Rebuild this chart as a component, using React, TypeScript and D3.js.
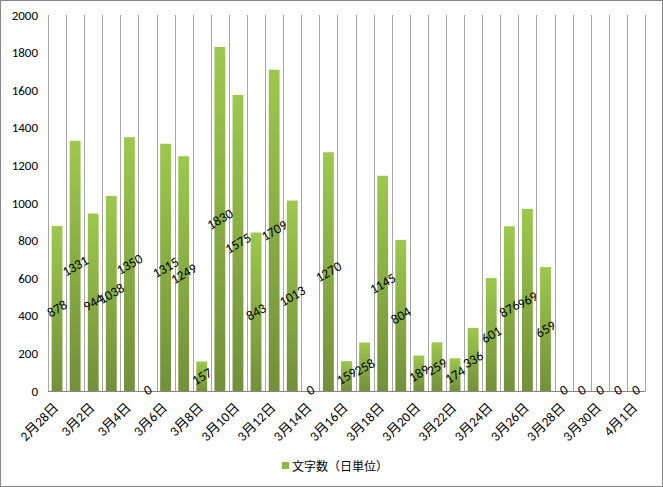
import React, { useRef, useEffect } from "react"
import * as d3 from "d3"

const dates = [
	"2月28日", "3月1日", "3月2日", "3月3日", "3月4日", "3月5日", "3月6日", "3月7日",
	"3月8日", "3月9日", "3月10日", "3月11日", "3月12日", "3月13日", "3月14日", "3月15日",
	"3月16日", "3月17日", "3月18日", "3月19日", "3月20日", "3月21日", "3月22日", "3月23日",
	"3月24日", "3月25日", "3月26日", "3月27日", "3月28日", "3月29日", "3月30日", "3月31日",
	"4月1日",
]
const counts = [
	878, 1331, 944, 1038, 1350, 0, 1315, 1249, 157, 1830, 1575, 843, 1709, 1013, 0, 1270,
	159, 258, 1145, 804, 189, 259, 174, 336, 601, 876, 969, 659, 0, 0, 0, 0, 0,
]
const yTicks = [0, 200, 400, 600, 800, 1000, 1200, 1400, 1600, 1800, 2000]
const seriesName = "文字数（日単位）"

const W = 663
const H = 487
const font = "Calibri, Carlito, 'Noto Sans CJK JP', 'Liberation Sans', sans-serif"

const App: React.FunctionComponent = () => {
	const svgRef = useRef<any>()

	useEffect(() => {
		document.body.style.margin = "0"
		const svg = d3.select(svgRef.current)
		svg.selectAll("*").remove()

		const x = d3.scaleBand<string>().domain(dates).range([48, 645]).padding(0)
		const y = d3.scaleLinear().domain([0, 2000]).range([391, 15])
		const bw = x.bandwidth() * 0.6

		// outer frame
		svg.append("rect")
			.attr("x", 0.5).attr("y", 0.5)
			.attr("width", W - 1).attr("height", H - 1)
			.attr("fill", "#fff").attr("stroke", "#868686")

		const defs = svg.append("defs")
		const grad = defs.append("linearGradient")
			.attr("id", "barGrad")
			.attr("x1", 0).attr("y1", 0).attr("x2", 0).attr("y2", 1)
		grad.append("stop").attr("offset", "0%").attr("stop-color", "#9dc84d")
		grad.append("stop").attr("offset", "100%").attr("stop-color", "#73903a")

		// vertical gridlines at category boundaries
		const bounds = dates.map((d) => x(d) as number).concat([x.range()[1]])
		svg.append("g")
			.selectAll("line")
			.data(bounds)
			.join("line")
			.attr("x1", (d) => Math.round(d) + 0.5)
			.attr("x2", (d) => Math.round(d) + 0.5)
			.attr("y1", y(2000))
			.attr("y2", y(0))
			.attr("stroke", "#a6a6a6")

		// x axis line
		svg.append("line")
			.attr("x1", 48).attr("x2", 645.5)
			.attr("y1", Math.round(y(0)) + 0.5).attr("y2", Math.round(y(0)) + 0.5)
			.attr("stroke", "#868686")

		// y tick labels
		svg.append("g")
			.selectAll("text")
			.data(yTicks)
			.join("text")
			.attr("x", 38)
			.attr("y", (d) => y(d) + 4.5)
			.attr("text-anchor", "end")
			.attr("font-family", font)
			.attr("font-size", 13)
			.attr("fill", "#000")
			.text((d) => d)

		// bars
		svg.append("g")
			.selectAll("rect")
			.data(counts)
			.join("rect")
			.attr("x", (d, i) => (x(dates[i]) as number) + (x.bandwidth() - bw) / 2)
			.attr("y", (d) => y(d))
			.attr("width", bw)
			.attr("height", (d) => y(0) - y(d))
			.attr("fill", "url(#barGrad)")

		// data labels
		svg.append("g")
			.selectAll("text")
			.data(counts)
			.join("text")
			.attr("transform", (d, i) => {
				const cx = (x(dates[i]) as number) + x.bandwidth() / 2
				const cy = d === 0 ? y(0) - 1 : (y(d) + y(0)) / 2
				return `translate(${cx},${cy}) rotate(-30)`
			})
			.attr("text-anchor", "middle")
			.attr("dy", "0.35em")
			.attr("font-family", font)
			.attr("font-size", 13.5)
			.attr("fill", "#000")
			.text((d) => d)

		// x labels, every other date
		svg.append("g")
			.selectAll("text")
			.data(dates.filter((d, i) => i % 2 === 0))
			.join("text")
			.attr("transform", (d) => {
				const cx = (x(d) as number) + x.bandwidth() / 2 - 1
				return `translate(${cx},405) rotate(-45)`
			})
			.attr("text-anchor", "end")
			.attr("dy", "0.35em")
			.attr("font-family", font)
			.attr("font-size", 13.5)
			.attr("fill", "#000")
			.text((d) => d)

		// legend
		svg.append("rect")
			.attr("x", 282).attr("y", 462)
			.attr("width", 7).attr("height", 7)
			.attr("fill", "#8db54a")
		svg.append("text")
			.attr("x", 292).attr("y", 470.5)
			.attr("font-family", font)
			.attr("font-size", 12)
			.attr("fill", "#000")
			.text(seriesName)
	}, [])

	return <svg ref={svgRef} width={W} height={H} style={{ display: "block" }}></svg>
}

export default App
